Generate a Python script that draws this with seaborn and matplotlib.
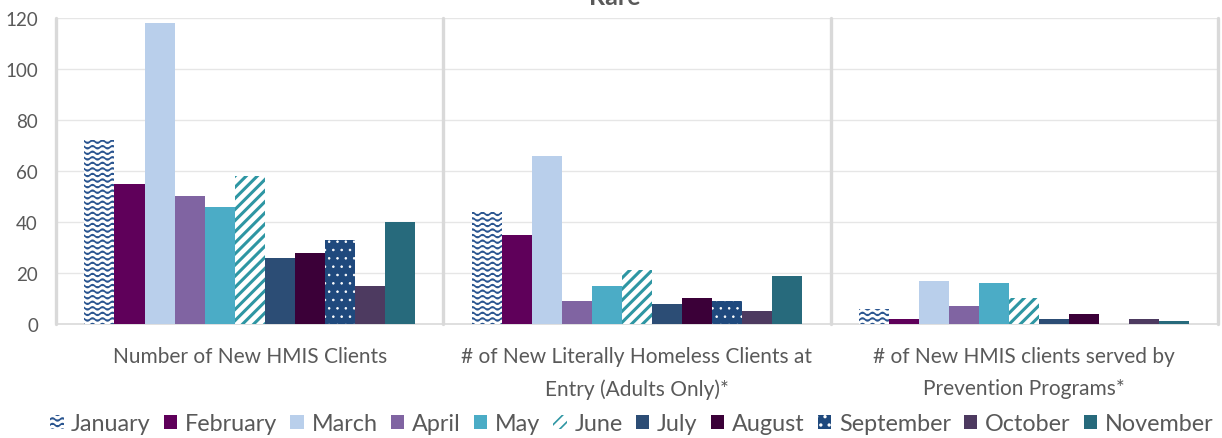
import warnings
warnings.filterwarnings("ignore")
import numpy as np
import pandas as pd
import matplotlib
matplotlib.use("Agg")
import matplotlib.pyplot as plt
import matplotlib.patches as mpatches
from matplotlib import hatch as mhatch
from matplotlib.path import Path
import seaborn as sns

# ---------------- data ----------------
categories = [
    "Number of New HMIS Clients",
    "# of New Literally Homeless Clients at\nEntry (Adults Only)*",
    "# of New HMIS clients served by\nPrevention Programs*",
]
months = ["January", "February", "March", "April", "May", "June",
          "July", "August", "September", "October", "November"]
new_hmis_clients = [72, 55, 118, 50, 46, 58, 26, 28, 33, 15, 40]
literally_homeless = [44, 35, 66, 9, 15, 21, 8, 10, 9, 5, 19]
prevention_programs = [6, 2, 17, 7, 16, 10, 2, 4, 0, 2, 1]
y_ticks = [0, 20, 40, 60, 80, 100, 120]
title = "Rare"

# ---------------- styles ----------------
face_colors = ["#FFFFFF", "#5F005A", "#B9CFEB", "#8064A2", "#4BACC6", "#FFFFFF",
               "#2C4D75", "#3B0038", "#1F497D", "#4D3A60", "#276A7C"]
hatch_colors = ["#2A5590", None, None, None, None, "#2E96A3",
                None, None, "#FFFFFF", None, None]
hatches = ["~~~", None, None, None, None, "///", None, None, "..", None, None]
hatch_lw = {0: 1.2, 5: 2.2, 8: 0.6}


class WaveHatch(mhatch.HatchPatternBase):
    """Horizontal wavy lines, drawn for '~' characters."""
    def __init__(self, hatch, density):
        self.num_lines = int(hatch.count('~') * density)
        self.n_pts = 161
        self.num_vertices = self.num_lines * self.n_pts

    def set_vertices_and_codes(self, vertices, codes):
        steps, stepsize = np.linspace(0.0, 1.0, self.num_lines, False, retstep=True)
        steps += stepsize / 2.0
        xs = np.linspace(0.0, 1.0, self.n_pts)
        wave = 0.014 * np.sin(2 * np.pi * 10 * xs)
        for i, s in enumerate(steps):
            sl = slice(i * self.n_pts, (i + 1) * self.n_pts)
            vertices[sl, 0] = xs
            vertices[sl, 1] = s + wave
            codes[sl] = Path.LINETO
            codes[i * self.n_pts] = Path.MOVETO


mhatch._hatch_types.append(WaveHatch)

sns.set_theme(style="white")
plt.rcParams['font.family'] = ['Lato', 'DejaVu Sans']
plt.rcParams['hatch.linewidth'] = 1.2
text_color = "#595959"

df = pd.DataFrame({
    "category": np.repeat(categories, len(months)),
    "month": months * len(categories),
    "value": new_hmis_clients + literally_homeless + prevention_programs,
})

fig = plt.figure(figsize=(12.22, 4.39), dpi=100)
ax = fig.add_axes([0.0458, 0.2597, 0.9509, 0.697])

sns.barplot(data=df, x="category", y="value", hue="month", order=categories,
            hue_order=months, palette=face_colors, width=0.853, ax=ax,
            saturation=1, linewidth=0, legend=False, errorbar=None)


def style_patch(p, i):
    p.set_facecolor(face_colors[i])
    p.set_linewidth(0)
    if hatches[i]:
        p.set_hatch(hatches[i])
        p.set_edgecolor(hatch_colors[i])
        if i in hatch_lw and hasattr(p, "set_hatch_linewidth"):
            p.set_hatch_linewidth(hatch_lw[i])


for i, cont in enumerate(ax.containers):
    for p in cont.patches:
        style_patch(p, i)

ax.set_xlim(-0.5, 2.5)
ax.set_ylim(0, 120)
ax.set_yticks(y_ticks)
ax.set_xlabel("")
ax.set_ylabel("")
for s in ax.spines.values():
    s.set_visible(False)
ax.grid(False)
for t in y_ticks[1:]:
    ax.axhline(t, color="#E6E6E6", lw=1, zorder=0)
ax.axhline(0, color="#D9D9D9", lw=1.2, zorder=0.5, clip_on=False)
for xb in [-0.5, 0.5, 1.5, 2.5]:
    ax.axvline(xb, color="#D9D9D9", lw=2.4, zorder=0.6, clip_on=False)

ax.tick_params(axis="both", length=0, colors=text_color)
ax.tick_params(axis="y", pad=13, labelsize=13.5)
ax.tick_params(axis="x", pad=16, labelsize=15.0)
for lbl in ax.get_xticklabels():
    lbl.set_linespacing(1.72)

fig.text(0.503, 0.988, title, ha="center", va="baseline", fontsize=18,
         fontweight="bold", color=text_color)

handles = []
for i, m in enumerate(months):
    h = mpatches.Patch(facecolor=face_colors[i], linewidth=0, label=m)
    style_patch(h, i)
    handles.append(h)

leg = fig.legend(handles=handles, loc="center", bbox_to_anchor=(0.517, 0.032),
                 ncol=len(months), frameon=False, fontsize=16.8,
                 handlelength=0.58, handleheight=0.58, handletextpad=0.33,
                 columnspacing=0.56, borderaxespad=0)
for t in leg.get_texts():
    t.set_color(text_color)

fig.savefig("out.png", dpi=100)
